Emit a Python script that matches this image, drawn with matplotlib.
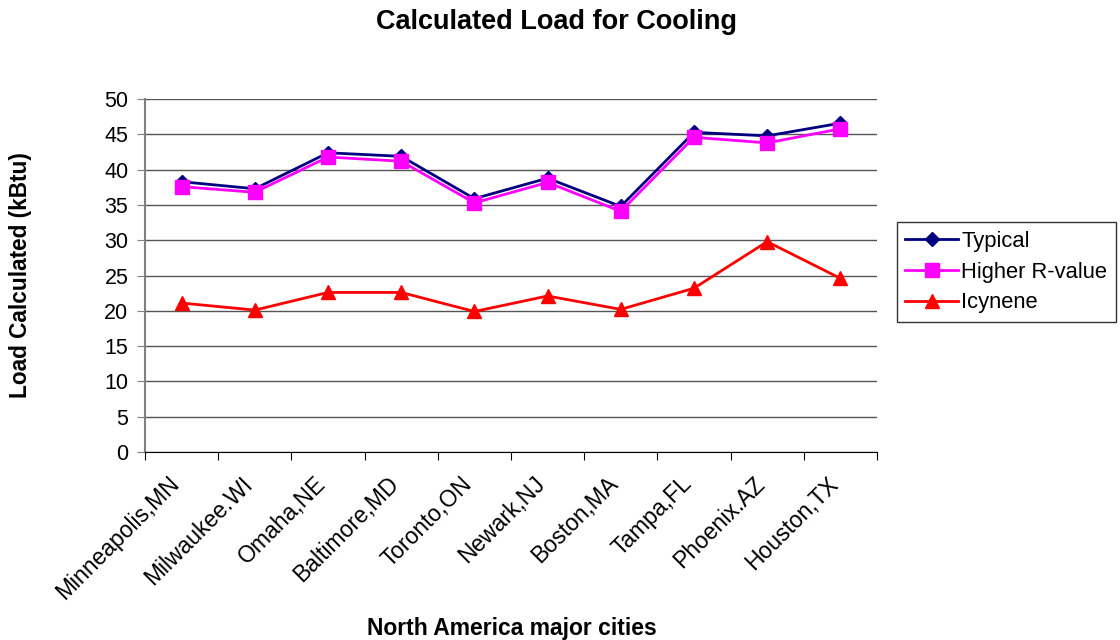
import matplotlib.pyplot as plt
import matplotlib.transforms as mtransforms
import numpy as np

plt.rcParams['font.family'] = ['Liberation Sans', 'DejaVu Sans']

# datos
ciudades = ["Minneapolis,MN", "Milwaukee.WI", "Omaha,NE", "Baltimore,MD", "Toronto,ON",
            "Newark,NJ", "Boston,MA", "Tampa,FL", "Phoenix.AZ", "Houston,TX"]
typical = [38.3, 37.3, 42.4, 41.9, 35.9, 38.8, 34.8, 45.3, 44.8, 46.6]
higher_r = [37.6, 36.8, 41.8, 41.2, 35.3, 38.2, 34.1, 44.6, 43.8, 45.8]
icynene = [21.1, 20.1, 22.6, 22.6, 19.9, 22.1, 20.2, 23.2, 29.8, 24.6]

fig = plt.figure(figsize=(11.2, 6.4), dpi=100)
ax = fig.add_axes([0.1295, 0.294, 0.6535, 0.551])

x = np.arange(len(ciudades))
ax.plot(x, typical, color="#000080", lw=2, marker="D", ms=7, label="Typical", zorder=3)
ax.plot(x, higher_r, color="#ff00ff", lw=2, marker="s", ms=10, label="Higher R-value", zorder=3)
ax.plot(x, icynene, color="#ff0000", lw=2, marker="^", ms=10, label="Icynene", zorder=3)

ax.set_xlim(-0.5, len(ciudades) - 0.5)
ax.set_ylim(0, 50)
ax.set_yticks(range(0, 51, 5))
ax.yaxis.grid(True, color="#555555", lw=1)
ax.set_axisbelow(True)

# ticks mayores en los limites entre categorias, etiquetas en los menores
ax.set_xticks(np.arange(-0.5, len(ciudades)), minor=False)
ax.set_xticklabels([])
ax.set_xticks(x, minor=True)
ax.set_xticklabels(ciudades, minor=True, rotation=45, ha="right", rotation_mode="anchor", fontsize=16.5)
ax.tick_params(axis="x", which="minor", length=0, pad=14)
ax.tick_params(axis="x", which="major", length=6, color="black")
ax.tick_params(axis="y", labelsize=15.5, length=6, color="#808080", pad=6)

# mover las etiquetas un poco a la izquierda
offset = mtransforms.ScaledTranslation(-0.14, -0.01, fig.dpi_scale_trans)
for lbl in ax.get_xticklabels(minor=True):
    lbl.set_transform(lbl.get_transform() + offset)

for s in ["top", "right"]:
    ax.spines[s].set_visible(False)
ax.spines["left"].set_color("#808080")
ax.spines["left"].set_linewidth(1.5)
ax.spines["bottom"].set_color("black")

fig.text(0.497, 0.966, "Calculated Load for Cooling", ha="center", va="center", fontsize=19.5, fontweight="bold")
fig.text(0.018, 0.57, "Load Calculated (kBtu)", ha="center", va="center", rotation=90,
         fontsize=16.3, fontweight="bold")
fig.text(0.457, 0.008, "North America major cities", ha="center", va="baseline", fontsize=16.5, fontweight="bold")

leg = ax.legend(loc="upper left", bbox_to_anchor=(1.027, 0.652), fontsize=15.8,
                frameon=True, fancybox=False, edgecolor="black", borderpad=0.4,
                handlelength=2.4, handletextpad=0.15, labelspacing=0.45, borderaxespad=0)
leg.get_frame().set_linewidth(1)

plt.savefig("out.png", dpi=100)
